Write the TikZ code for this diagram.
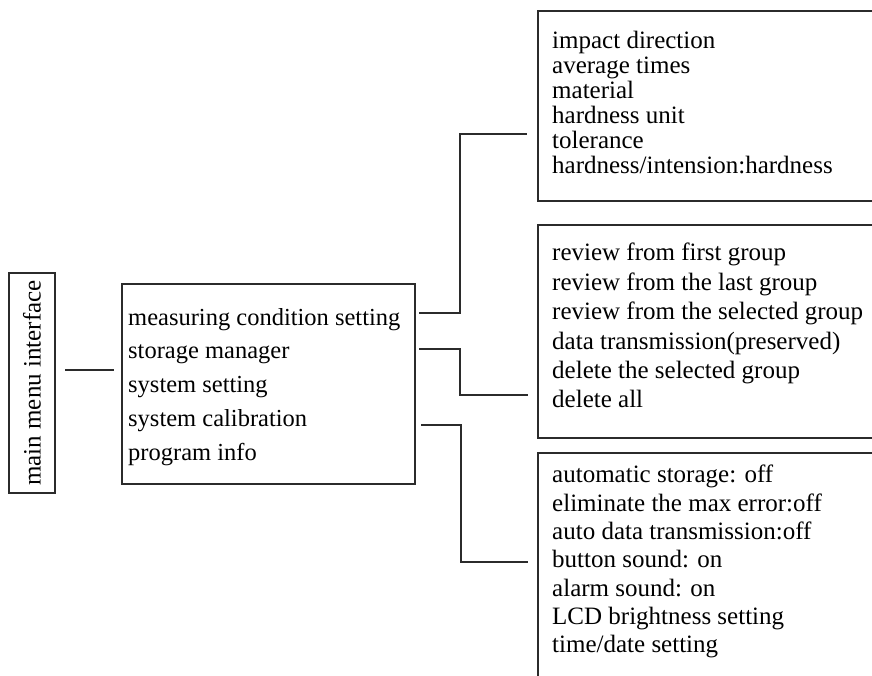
\documentclass[tikz,border=0pt]{standalone}
\usepackage{fontspec}
\setmainfont{Liberation Serif}
\usetikzlibrary{calc}
\definecolor{linec}{HTML}{2B2B2B}
\begin{document}
\begin{tikzpicture}[x=1pt,y=-1pt,
  boxs/.style={draw=linec, line width=2pt, inner sep=0pt, anchor=north west},
  txt/.style={inner sep=0pt, anchor=north west, align=left, text=black},
  conn/.style={draw=linec, line width=2pt}]
\useasboundingbox (0,0) rectangle (872,675);
\clip (0,0) rectangle (872,675);
% main menu box
\node[draw=linec, line width=2pt, rotate=90, minimum width=220pt, minimum height=46pt,
  inner sep=0pt, font=\fontsize{25}{25}\selectfont] (main) at (32,383) {main menu interface};
% middle box
\node[boxs, minimum width=293pt, minimum height=200pt] (mid) at (121,283) {};
\node[txt, font=\fontsize{24.5}{33.75}\selectfont] (midt) at (128,308)
  {measuring condition setting\\storage manager\\system setting\\system calibration\\program info};
% right boxes
\node[boxs, minimum width=400pt, minimum height=190pt] (b1) at (537,10) {};
\node[txt, font=\fontsize{25}{25}\selectfont] (t1) at (552,31)
  {impact direction\\average times\\material\\hardness unit\\tolerance\\hardness/intension:hardness};
\node[boxs, minimum width=400pt, minimum height=213pt] (b2) at (537,224) {};
\node[txt, font=\fontsize{25}{29.4}\selectfont] (t2) at (552,243)
  {review from first group\\review from the last group\\review from the selected group\\data transmission(preserved)\\delete the selected group\\delete all};
\node[boxs, minimum width=400pt, minimum height=260pt] (b3) at (537,452) {};
\node[txt, font=\fontsize{25}{28.3}\selectfont] (t3) at (552,465)
  {automatic storage: off\\eliminate the max error:off\\auto data transmission:off\\button sound: on\\alarm sound: on\\LCD brightness setting\\time/date setting};
% connectors
\draw[conn] ([shift={(9,-13)}]main.south) -- ([shift={(-7,87)}]mid.north west);
\draw[conn] ([shift={(3,30)}]mid.north east) -- ++(41,0) |- ([shift={(-10,124)}]b1.north west);
\draw[conn] ([shift={(3,66)}]mid.north east) -- ++(41,0) |- ([shift={(-9,171)}]b2.north west);
\draw[conn] ([shift={(5,142)}]mid.north east) -- ++(40,0) |- ([shift={(-9,110)}]b3.north west);
\end{tikzpicture}
\end{document}
